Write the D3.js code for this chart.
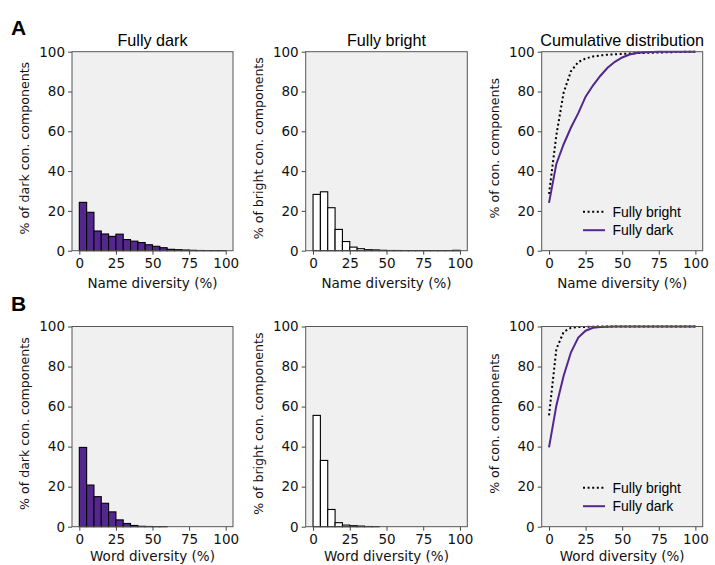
<!DOCTYPE html>
<html><head><meta charset="utf-8">
<script src="https://cdn.jsdelivr.net/npm/d3@7"></script>
<style>body{margin:0;background:#fff}</style>
</head><body>
<svg id="c" width="715" height="565"></svg>
<script>
// ---- data ----
const binStarts = [0,5,10,15,20,25,30,35,40,45,50,55,60,65,70,75,80,85,90,95];
const nameDark   = [24.3,19.3,9.9,8.4,7.2,8.3,5.6,4.8,4.1,3.0,2.2,1.5,0.7,0.5,0.35,0.2,0.1,0.05,0.05,0.05];
const nameBright = [28.3,29.6,21.6,10.7,4.6,1.8,1.0,0.5,0.4,0.2,0.1,0.1,0.05,0.05,0.05,0.05,0.05,0.05,0.05,0.2];
const wordDark   = [39.6,20.8,15.0,11.7,7.4,3.4,1.6,0.6,0.2,0.1,0.05,0.05,0,0,0,0,0,0,0,0];
const wordBright = [55.6,33.1,8.6,2.0,0.8,0.5,0.3,0.1,0.05,0,0,0,0,0,0,0,0,0,0,0];
const cdfX = [0,5,10,15,20,25,30,35,40,45,50,55,60,65,70,75,80,85,90,95,100];
const nameDarkCdf   = [24,43.6,53.5,61.9,69.1,77.4,83,87.8,91.9,94.9,97.1,98.6,99.3,99.7,99.9,100,100,100,100,100,100];
const nameBrightCdf = [28.5,58,79.5,90.2,94.8,96.6,97.6,98.1,98.5,98.7,98.9,99.1,99.3,99.4,99.5,99.6,99.7,99.8,99.9,100,100];
const wordDarkCdf   = [39.6,60.4,75.4,87.1,94.5,97.9,99.4,99.8,99.9,100,100,100,100,100,100,100,100,100,100,100,100];
const wordBrightCdf = [55.6,88.7,97.3,99.3,99.7,99.8,99.9,100,100,100,100,100,100,100,100,100,100,100,100,100,100];
const xTicks = [0,25,50,75,100];
const yTicks = [0,20,40,60,80,100];
const colTitles = ["Fully dark","Fully bright","Cumulative distribution"];
const rowLetters = ["A","B"];
const xLabels = ["Name diversity (%)","Word diversity (%)"];
const yLabels = ["% of dark con. components","% of bright con. components","% of con. components"];
const legendLabels = ["Fully bright","Fully dark"];

const purple = "#54278f";
const svg = d3.select("#c");
const colX = [[72,233],[305.7,467.3],[541.7,702.7]];
const rowY = [[51.7,250.7],[326.5,526.7]];
const tickFont = "DejaVu Sans, sans-serif";
const sansFont = "Liberation Sans, Arial, sans-serif";

const hists = [[nameDark,nameBright],[wordDark,wordBright]];
const cdfs = [[nameBrightCdf,nameDarkCdf],[wordBrightCdf,wordDarkCdf]];

function axesBox(r,c){
  const [x0,x1]=colX[c],[y0,y1]=rowY[r];
  const x=d3.scaleLinear().domain([-5,105]).range([x0,x1]);
  const y=d3.scaleLinear().domain([0,100]).range([y1,y0]);
  const g=svg.append("g");
  g.append("rect").attr("x",x0).attr("y",y0).attr("width",x1-x0).attr("height",y1-y0).attr("fill","#f0f0f0");
  return {g,x,y,x0,x1,y0,y1};
}
function drawAxes(a,r,c){
  const {g,x,y,x0,x1,y0,y1}=a;
  const xa=g.append("g").attr("transform",`translate(0,${y1})`)
    .call(d3.axisBottom(x).tickValues(xTicks).tickSize(4).tickPadding(4));
  const ya=g.append("g").attr("transform",`translate(${x0},0)`)
    .call(d3.axisLeft(y).tickValues(yTicks).tickSize(4).tickPadding(3));
  [xa,ya].forEach(s=>{
    s.select(".domain").remove();
    s.selectAll("line").attr("stroke","#444").attr("stroke-width",1);
    s.selectAll("text").attr("font-family",tickFont).attr("font-size",13.5).attr("fill","#111");
  });
  g.append("rect").attr("x",x0).attr("y",y0).attr("width",x1-x0).attr("height",y1-y0)
    .attr("fill","none").attr("stroke","#555").attr("stroke-width",1);
  g.append("text").attr("x",(x0+x1)/2).attr("y",y1+(r===0?37:34.5)).attr("text-anchor","middle")
    .attr("font-family",tickFont).attr("font-size",13.5).attr("fill","#111").text(xLabels[r]);
  const cy=(y0+y1)/2-3, cx=x0-43;
  g.append("text").attr("transform",`translate(${cx},${cy}) rotate(-90)`).attr("text-anchor","middle")
    .attr("font-family",tickFont).attr("font-size",12.6).attr("fill","#111").text(yLabels[c]);
  if(r===0){
    g.append("text").attr("x",(x0+x1)/2).attr("y",y0-6).attr("text-anchor","middle")
      .attr("font-family",sansFont).attr("font-size",16.2).attr("fill","#000").text(colTitles[c]);
  }
}

for(let r=0;r<2;r++){
  for(let c=0;c<2;c++){
    const a=axesBox(r,c);
    const data=hists[r][c];
    a.g.selectAll(".bar").data(binStarts.map((s,i)=>({s,v:data[i]}))).join("rect")
      .attr("x",d=>a.x(d.s)).attr("width",d=>a.x(d.s+5)-a.x(d.s))
      .attr("y",d=>a.y(d.v)).attr("height",d=>a.y(0)-a.y(d.v))
      .attr("fill",c===0?purple:"#ffffff").attr("stroke","#000").attr("stroke-width",1.1);
    drawAxes(a,r,c);
  }
  const a=axesBox(r,2);
  const line=d3.line().x((d,i)=>a.x(cdfX[i])).y(d=>a.y(d));
  a.g.append("path").datum(cdfs[r][0]).attr("d",line).attr("fill","none")
    .attr("stroke","#000").attr("stroke-width",2).attr("stroke-dasharray","2,2.6");
  a.g.append("path").datum(cdfs[r][1]).attr("d",line).attr("fill","none")
    .attr("stroke",purple).attr("stroke-width",2);
  // legend
  const ly=[a.y1-39,a.y1-20.5];
  a.g.append("line").attr("x1",583).attr("x2",605).attr("y1",ly[0]).attr("y2",ly[0])
    .attr("stroke","#000").attr("stroke-width",2).attr("stroke-dasharray","2,2.6");
  a.g.append("line").attr("x1",583).attr("x2",605).attr("y1",ly[1]).attr("y2",ly[1])
    .attr("stroke",purple).attr("stroke-width",2);
  legendLabels.forEach((t,i)=>{
    a.g.append("text").attr("x",612.5).attr("y",ly[i]+5).attr("font-family",sansFont)
      .attr("font-size",14).attr("fill","#000").text(t);
  });
  drawAxes(a,r,2);
}
rowLetters.forEach((t,i)=>{
  svg.append("text").attr("x",11).attr("y",i===0?35:311).attr("font-family",sansFont)
    .attr("font-weight","bold").attr("font-size",21).attr("fill","#000").text(t);
});
</script>
</body></html>
